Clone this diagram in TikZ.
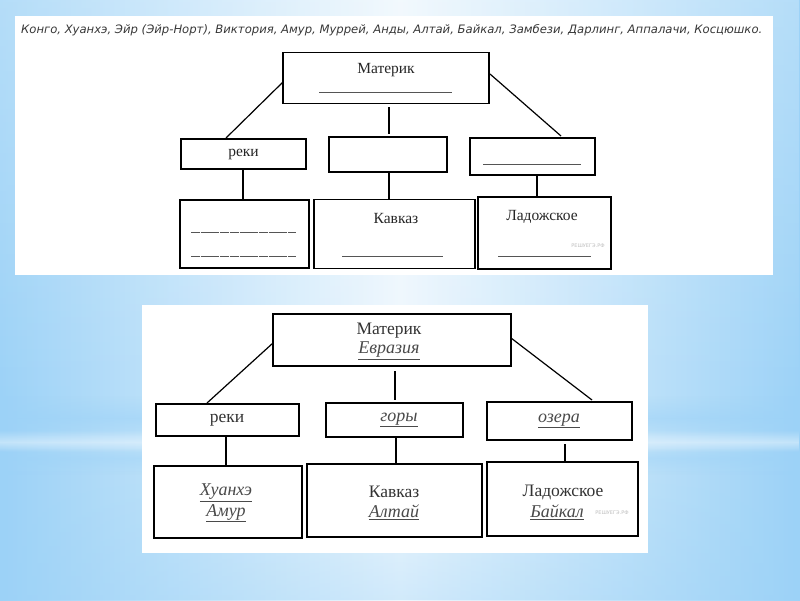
\documentclass[tikz,border=0pt]{standalone}
\usepackage{fontspec}
\setmainfont{Liberation Serif}
\newfontfamily\hintfont{DejaVu Sans}
\usetikzlibrary{calc,fadings}
\definecolor{bgblue}{HTML}{9CD2F7}
\definecolor{bglight}{HTML}{EEF7FD}
\definecolor{ansgray}{HTML}{4A4A4A}
\definecolor{blankgray}{HTML}{555555}
\tikzset{
  box/.style={draw=black, line width=1.2pt, fill=white, inner sep=0pt},
  conn/.style={draw=black, line width=1.2pt},
  blank/.style={draw=blankgray, line width=0.8pt},
  lbl/.style={font=\fontsize{15.5}{17}\selectfont, text=black!85, inner sep=0pt},
  lblb/.style={font=\fontsize{17.5}{19}\selectfont, text=black!80, inner sep=0pt},
  ans/.style={font=\fontsize{18}{20}\selectfont\itshape, text=ansgray, inner sep=0pt},
  wm/.style={font=\fontsize{5}{6}\selectfont\hintfont, text=black!25, inner sep=0pt},
}
\newcommand{\ansu}[1]{\underline{#1}}
\begin{document}
\begin{tikzpicture}[x=1pt,y=-1pt]
\useasboundingbox (0,0) rectangle (800,600);
% background
\shade[left color=bgblue, right color=bgblue, middle color=bglight] (0,0) rectangle (800,600);
\fill[white, opacity=0.25, path fading=south] (0,0) rectangle (800,400);
\fill[bgblue, opacity=0.5, path fading=north] (0,395) rectangle (800,418);
\fill[bgblue, opacity=0.5, path fading=south] (0,418) rectangle (800,436);
\fill[white, opacity=0.4, path fading=north] (0,430) rectangle (800,442);
\fill[white, opacity=0.4, path fading=south] (0,442) rectangle (800,452);
\fill[bgblue, opacity=0.4, path fading=north] (0,448) rectangle (800,458);
\fill[bgblue, opacity=0.4, path fading=south] (0,458) rectangle (800,475);
\fill[bgblue, opacity=0.35, path fading=north] (0,470) rectangle (800,600);

% ===== top panel =====
\fill[white] (15,16) rectangle (773,275);
\node[anchor=west, inner sep=0pt, text=black!78] (hint) at (21,30)
  {\resizebox{741pt}{!}{\hintfont\itshape\fontsize{11}{13}\selectfont Конго, Хуанхэ, Эйр (Эйр-Норт), Виктория, Амур, Муррей, Анды, Алтай, Байкал, Замбези, Дарлинг, Аппалачи, Косцюшко.}};

\node[box, minimum width=206pt, minimum height=51pt] (t0) at (386,78) {};
\node[lbl] (t0l) at (386,70) {Материк};
\coordinate (t0a) at (319,92); \coordinate (t0b) at (452,92);
\draw[blank] (t0a) -- (t0b);

\node[box, minimum width=125pt, minimum height=30pt] (t1) at (243.5,154) {};
\node[lbl] (t1l) at (243.5,154) {реки};
\node[box, minimum width=118pt, minimum height=35pt] (t2) at (388,154.5) {};
\node[box, minimum width=125pt, minimum height=37pt] (t3) at (532.5,156.5) {};
\coordinate (t3a) at (483,164); \coordinate (t3b) at (581,164);
\draw[blank] (t3a) -- (t3b);

\node[box, minimum width=129pt, minimum height=68pt] (t4) at (244.5,234) {};
\coordinate (t4a) at (191,232); \coordinate (t4b) at (296,232);
\coordinate (t4c) at (191,256); \coordinate (t4d) at (296,256);
\draw[blank, dash pattern=on 9pt off 0.7pt] (t4a) -- (t4b);
\draw[blank, dash pattern=on 9pt off 0.7pt] (t4c) -- (t4d);
\node[box, minimum width=161pt, minimum height=69pt] (t5) at (394.5,234) {};
\node[lbl] (t5l) at (396,218) {Кавказ};
\coordinate (t5a) at (342,256); \coordinate (t5b) at (443,256);
\draw[blank] (t5a) -- (t5b);
\node[box, minimum width=133pt, minimum height=72pt] (t6) at (544.5,233) {};
\node[lbl] (t6l) at (542,217) {Ладожское};
\coordinate (t6a) at (498,256); \coordinate (t6b) at (591,256);
\draw[blank] (t6a) -- (t6b);
\node[wm] (t6w) at (588,246) {РЕШУЕГЭ.РФ};

% top connectors
\coordinate (c1a) at (283,82); \coordinate (c1b) at (226,138);
\draw[conn] (c1a) -- (c1b);
\coordinate (c2a) at (389,107); \coordinate (c2b) at (389,134);
\draw[conn] (c2a) -- (c2b);
\coordinate (c3a) at (490,74); \coordinate (c3b) at (561,136);
\draw[conn] (c3a) -- (c3b);
\draw[conn] (t1.south -| 243,0) -- (t4.north -| 243,0);
\draw[conn] (t2.south -| 389,0) -- (t5.north -| 389,0);
\draw[conn] (t3.south -| 537,0) -- (t6.north -| 537,0);

% ===== bottom panel =====
\fill[white] (142,305) rectangle (648,553);

\node[box, minimum width=238pt, minimum height=52pt] (b0) at (392,340) {};
\node[lblb] (b0l) at (389,331) {Материк};
\node[ans] (b0a) at (389,351) {\ansu{Евразия}};

\node[box, minimum width=143pt, minimum height=32pt] (b1) at (227.5,420) {};
\node[lblb] (b1l) at (227,420) {реки};
\node[box, minimum width=137pt, minimum height=34pt] (b2) at (394.5,420) {};
\node[ans] (b2l) at (399,420) {\ansu{горы}};
\node[box, minimum width=145pt, minimum height=38pt] (b3) at (559.5,421) {};
\node[ans] (b3l) at (559,421) {\ansu{озера}};

\node[box, minimum width=148pt, minimum height=72pt] (b4) at (228,502) {};
\node[ans] (b4a) at (226,493) {\ansu{Хуанхэ}};
\node[ans] (b4b) at (226,513) {\ansu{Амур}};
\node[box, minimum width=175pt, minimum height=73pt] (b5) at (394.5,500.5) {};
\node[lblb] (b5a) at (394,492) {Кавказ};
\node[ans] (b5b) at (394,512) {\ansu{Алтай}};
\node[box, minimum width=151pt, minimum height=74pt] (b6) at (562.5,499) {};
\node[lblb] (b6a) at (563,492) {Ладожское};
\node[ans] (b6b) at (557,512) {\ansu{Байкал}};
\node[wm] (b6w) at (612,513) {РЕШУЕГЭ.РФ};

% bottom connectors
\coordinate (d1a) at (273,343); \coordinate (d1b) at (207,403);
\draw[conn] (d1a) -- (d1b);
\coordinate (d2a) at (395,371); \coordinate (d2b) at (395,400);
\draw[conn] (d2a) -- (d2b);
\coordinate (d3a) at (511,338); \coordinate (d3b) at (592,400);
\draw[conn] (d3a) -- (d3b);
\draw[conn] (b1.south -| 226,0) -- (b4.north -| 226,0);
\draw[conn] (b2.south -| 396,0) -- (b5.north -| 396,0);
\coordinate (d6a) at (565,444);
\draw[conn] (d6a) -- (b6.north -| 565,0);
\end{tikzpicture}
\end{document}
